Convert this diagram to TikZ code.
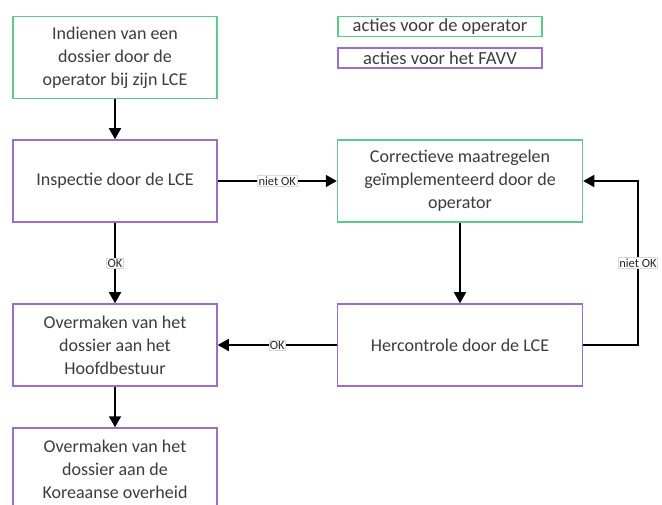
\documentclass[tikz,border=0pt]{standalone}
\usepackage{fontspec}
\setmainfont{Carlito}
\usetikzlibrary{arrows.meta}
\definecolor{opgreen}{RGB}{96,200,140}
\definecolor{favpurple}{RGB}{155,110,200}
\definecolor{txt}{RGB}{60,60,60}
\tikzset{
  box/.style={draw, line width=1.5pt, minimum width=204pt, minimum height=82pt, inner sep=2pt,
    align=center, text=txt, font=\fontsize{18}{23}\selectfont},
  opbox/.style={box, draw=opgreen},
  fabox/.style={box, draw=favpurple},
  rbox/.style={minimum width=245pt},
  legend/.style={draw, line width=1.4pt, minimum width=204pt, minimum height=20pt, inner sep=0pt,
    text=txt, font=\fontsize{18.5}{19}\selectfont},
  conn/.style={line width=1.6pt, -{Triangle[length=11pt,width=12pt]}},
  lbl/.style={fill=white, draw=black!15, line width=0.4pt, inner sep=1pt, text=black!85,
    font=\fontsize{12.5}{14}\selectfont}
}
\begin{document}
\begin{tikzpicture}[x=1pt,y=-1pt]
\useasboundingbox[fill=white] (0,0) rectangle (662,505);
\clip (0,0) rectangle (662,505);
\node[opbox] (b1) at (115,57.5) {Indienen van een\\dossier door de\\operator bij zijn LCE};
\node[fabox] (b2) at (115,181) {Inspectie door de LCE};
\node[fabox] (b3) at (115,345) {Overmaken van het\\dossier aan het\\Hoofdbestuur};
\node[fabox] (b4) at (115,469) {Overmaken van het\\dossier aan de\\Koreaanse overheid};
\node[opbox,rbox] (c1) at (460,181) {Correctieve maatregelen\\geïmplementeerd door de\\operator};
\node[fabox,rbox] (c2) at (460,345) {Hercontrole door de LCE};
\node[legend, draw=opgreen] (l1) at (440,26.5) {acties voor de operator};
\node[legend, draw=favpurple] (l2) at (440,58) {acties voor het FAVV};
\coordinate (fb1) at (638,345);
\coordinate (fb2) at (638,181);
\draw[conn] (b1) -- (b2);
\draw[conn] (b2) -- node[lbl] {OK} (b3);
\draw[conn] (b3) -- (b4);
\draw[conn] (b2) -- node[lbl] {niet OK} (c1);
\draw[conn] (c1) -- (c2);
\draw[conn] (c2) -- node[lbl] {OK} (b3);
\draw[conn] (c2.east) -- (fb1) -- node[lbl] {niet OK} (fb2) -- (c1.east);
\end{tikzpicture}
\end{document}
